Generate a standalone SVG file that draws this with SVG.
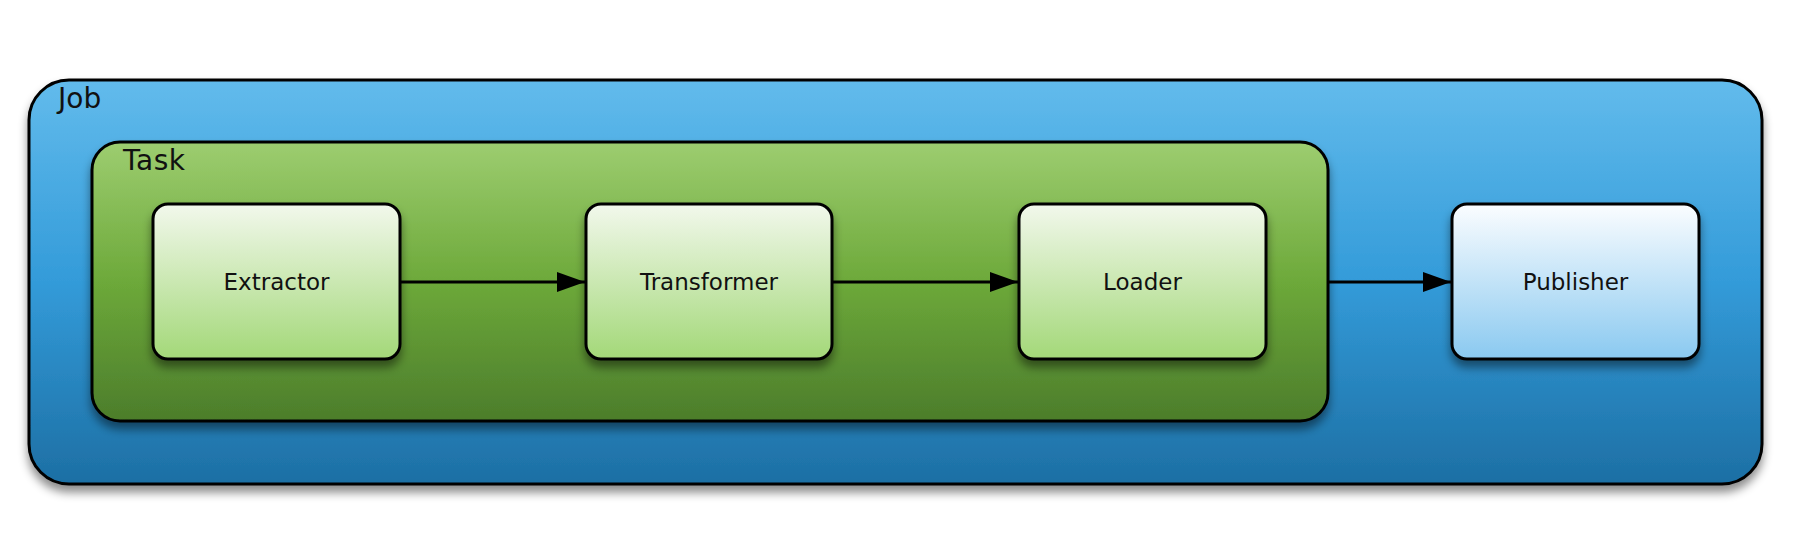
<svg xmlns="http://www.w3.org/2000/svg" width="1800" height="542" viewBox="0 0 1800 542">
<style>
.box{stroke:#000;stroke-width:3}
.lbl{font-family:"DejaVu Sans","Liberation Sans",sans-serif;fill:#111}
.node{font-size:23px;text-anchor:middle}
.cont{font-size:28px}
.conn{stroke:#000;stroke-width:3;fill:none}
</style>
<defs>
<linearGradient id="gJob" x1="0" y1="0" x2="0" y2="1">
<stop offset="0" stop-color="#62BBEC"/>
<stop offset="0.5" stop-color="#339BD9"/>
<stop offset="1" stop-color="#1D6FA4"/>
</linearGradient>
<linearGradient id="gTask" x1="0" y1="0" x2="0" y2="1">
<stop offset="0" stop-color="#9DCD70"/>
<stop offset="0.5" stop-color="#6DA93A"/>
<stop offset="1" stop-color="#4C7D2B"/>
</linearGradient>
<linearGradient id="gNode" x1="0" y1="0" x2="0" y2="1">
<stop offset="0" stop-color="#F2F8EC"/>
<stop offset="1" stop-color="#A3D878"/>
</linearGradient>
<linearGradient id="gPub" x1="0" y1="0" x2="0" y2="1">
<stop offset="0" stop-color="#FBFDFF"/>
<stop offset="1" stop-color="#8AC9F0"/>
</linearGradient>
<filter id="sh" x="-10%" y="-10%" width="120%" height="130%">
<feDropShadow dx="0" dy="7" stdDeviation="5" flood-color="#000" flood-opacity="0.45"/>
</filter>
</defs>
<rect width="1800" height="542" fill="#fff"/>
<g id="job">
<rect class="box" x="29" y="80" width="1733" height="404" rx="40" fill="url(#gJob)" filter="url(#sh)"/>
<text class="lbl cont" x="58" y="108">Job</text>
</g>
<g id="task">
<rect class="box" x="92" y="142" width="1236" height="279" rx="28" fill="url(#gTask)" filter="url(#sh)"/>
<text class="lbl cont" x="123" y="170" letter-spacing="0.5">Task</text>
</g>
<g id="extractor">
<rect class="box" x="153" y="204" width="247" height="155" rx="15" fill="url(#gNode)" filter="url(#sh)"/>
<text class="lbl node" x="276.5" y="290">Extractor</text>
</g>
<g id="transformer">
<rect class="box" x="586" y="204" width="246" height="155" rx="15" fill="url(#gNode)" filter="url(#sh)"/>
<text class="lbl node" x="709" y="290">Transformer</text>
</g>
<g id="loader">
<rect class="box" x="1019" y="204" width="247" height="155" rx="15" fill="url(#gNode)" filter="url(#sh)"/>
<text class="lbl node" x="1142.5" y="290">Loader</text>
</g>
<g id="publisher">
<rect class="box" x="1452" y="204" width="247" height="155" rx="15" fill="url(#gPub)" filter="url(#sh)"/>
<text class="lbl node" x="1575.5" y="290">Publisher</text>
</g>
<g id="connectors">
<line class="conn" x1="400" y1="282" x2="585" y2="282"/>
<path d="M557,272 L585,282 L557,292 Z" fill="#000"/>
<line class="conn" x1="832" y1="282" x2="1018" y2="282"/>
<path d="M990,272 L1018,282 L990,292 Z" fill="#000"/>
<line class="conn" x1="1328" y1="282" x2="1451" y2="282"/>
<path d="M1423,272 L1451,282 L1423,292 Z" fill="#000"/>
</g>
</svg>
